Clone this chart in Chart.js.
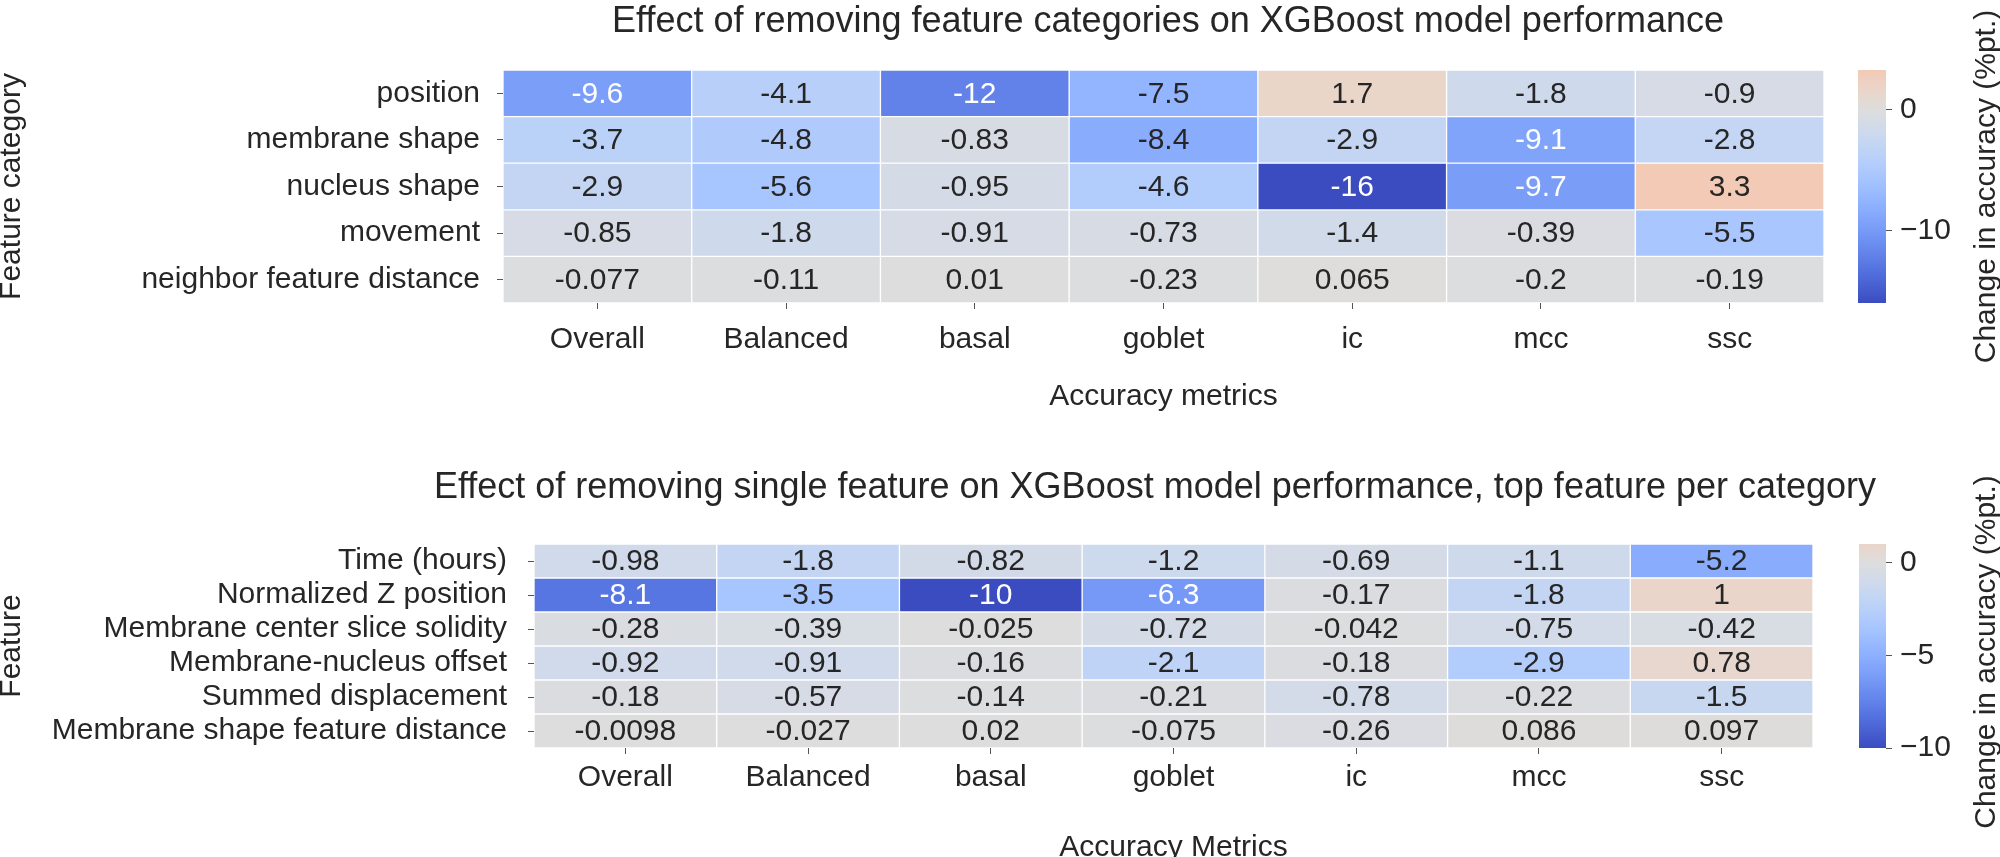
<!DOCTYPE html>
<html>
<head>
<meta charset="utf-8">
<script src="https://cdn.jsdelivr.net/npm/chart.js@4.4.1/dist/chart.umd.min.js"></script>
<style>
  html, body { margin: 0; padding: 0; background: #fff; overflow: hidden; }
  body { width: 2000px; height: 857px; position: relative; }
  .box { position: absolute; }
</style>
</head>
<body>
<div class="box" style="left:0;top:0;width:2000px;height:430px"><canvas id="heat1"></canvas></div>
<div class="box" style="left:0;top:430px;width:2000px;height:450px"><canvas id="heat2"></canvas></div>
<div class="box" style="left:1845px;top:0;width:155px;height:430px"><canvas id="bar1"></canvas></div>
<div class="box" style="left:1845px;top:430px;width:155px;height:450px"><canvas id="bar2"></canvas></div>
<script>
// Columns shared by both heatmaps
const metrics = ["Overall", "Balanced", "basal", "goblet", "ic", "mcc", "ssc"];

// Top heatmap: removing whole feature categories
const categoryRows = ["position", "membrane shape", "nucleus shape", "movement", "neighbor feature distance"];
const categoryValues = [
    [-9.6, -4.1, -12, -7.5, 1.7, -1.8, -0.9],
    [-3.7, -4.8, -0.83, -8.4, -2.9, -9.1, -2.8],
    [-2.9, -5.6, -0.95, -4.6, -16, -9.7, 3.3],
    [-0.85, -1.8, -0.91, -0.73, -1.4, -0.39, -5.5],
    [-0.077, -0.11, 0.01, -0.23, 0.065, -0.2, -0.19]
];
const categoryTicks = [0, -10];

// Bottom heatmap: removing the top single feature per category
const featureRows = ["Time (hours)", "Normalized Z position", "Membrane center slice solidity",
    "Membrane-nucleus offset", "Summed displacement", "Membrane shape feature distance"];
const featureValues = [
    [-0.98, -1.8, -0.82, -1.2, -0.69, -1.1, -5.2],
    [-8.1, -3.5, -10, -6.3, -0.17, -1.8, 1],
    [-0.28, -0.39, -0.025, -0.72, -0.042, -0.75, -0.42],
    [-0.92, -0.91, -0.16, -2.1, -0.18, -2.9, 0.78],
    [-0.18, -0.57, -0.14, -0.21, -0.78, -0.22, -1.5],
    [-0.0098, -0.027, 0.02, -0.075, -0.26, 0.086, 0.097]
];
const featureTicks = [0, -5, -10];

// coolwarm colour map (Moreland), 33 samples
const coolwarm = [
    [59, 76, 192], [68, 90, 204], [77, 104, 215], [87, 117, 225], [98, 130, 234], [108, 142, 241],
    [119, 154, 247], [130, 165, 251], [141, 176, 254], [152, 185, 255], [163, 194, 255], [174, 201, 253],
    [184, 208, 249], [194, 213, 244], [204, 217, 238], [213, 219, 230], [221, 221, 221], [229, 216, 209],
    [236, 211, 198], [241, 204, 185], [245, 196, 173], [247, 187, 160], [247, 177, 148], [247, 166, 135],
    [244, 154, 123], [241, 141, 111], [236, 127, 99], [229, 112, 88], [222, 96, 77], [213, 80, 66],
    [203, 62, 56], [192, 40, 47], [180, 4, 38]
];

const FONT = "'Liberation Sans', Arial, Helvetica, sans-serif";
const TEXT = "#262626";
const tickFont = { family: FONT, size: 30 };
const labelFont = { family: FONT, size: 30, lineHeight: 1 };

function cmapAt(t) {
    t = Math.min(1, Math.max(0, t));
    const pos = t * (coolwarm.length - 1);
    const k = Math.min(coolwarm.length - 2, Math.floor(pos));
    const f = pos - k;
    const a = coolwarm[k], b = coolwarm[k + 1];
    return [0, 1, 2].map(c => a[c] + (b[c] - a[c]) * f);
}

function rgb(c) {
    return "rgb(" + c.map(Math.round).join(",") + ")";
}

// seaborn-style: colours centred on 0, range from the data
function makeNorm(values) {
    const flat = values.flat();
    const vmin = Math.min(...flat);
    const vmax = Math.max(...flat);
    const vrange = Math.max(vmax, -vmin);
    return { vmin, vmax, toT: v => (v + vrange) / (2 * vrange) };
}

function luminance(c) {
    const lin = c.map(v => {
        v = v / 255;
        return v <= 0.03928 ? v / 12.92 : Math.pow((v + 0.055) / 1.055, 2.4);
    });
    return 0.2126 * lin[0] + 0.7152 * lin[1] + 0.0722 * lin[2];
}

function drawHeatmap(id, rows, values, L) {
    const norm = makeNorm(values);

    const datasets = rows.map((r, i) => ({
        label: r,
        data: metrics.map(() => [i, i + 1]),
        backgroundColor: values[i].map(v => rgb(cmapAt(norm.toT(v)))),
        borderColor: "rgba(255,255,255,0.4)",
        borderWidth: 1,
        borderSkipped: false,
        grouped: false,
        barPercentage: 1,
        categoryPercentage: 1
    }));

    // cell numbers + title (title drawn here so it is not squeezed to the plot width)
    const annot = {
        id: "annot",
        afterDatasetsDraw(chart) {
            const { ctx, scales: { x, y } } = chart;
            ctx.save();
            ctx.font = "30px " + FONT;
            ctx.textAlign = "center";
            ctx.textBaseline = "middle";
            values.forEach((row, i) => row.forEach((v, j) => {
                const c = cmapAt(norm.toT(v));
                ctx.fillStyle = luminance(c) > 0.408 ? TEXT : "#ffffff";
                ctx.fillText(String(v), x.getPixelForValue(j), y.getPixelForValue(i + 0.5) + 1);
            }));
            ctx.font = "36px " + FONT;
            ctx.fillStyle = TEXT;
            ctx.textBaseline = "alphabetic";
            ctx.fillText(L.title, L.titleX, L.titleBase);
            ctx.restore();
        }
    };

    return new Chart(document.getElementById(id), {
        type: "bar",
        data: { labels: metrics, datasets: datasets },
        options: {
            responsive: true,
            maintainAspectRatio: false,
            animation: false,
            layout: { padding: { left: 0, right: L.right, top: L.top, bottom: 0 } },
            plugins: {
                legend: { display: false },
                tooltip: { enabled: false },
                title: { display: false }
            },
            scales: {
                x: {
                    type: "category",
                    offset: true,
                    grid: { offset: false, drawOnChartArea: false, tickLength: 6, color: "#555" },
                    border: { display: false },
                    ticks: { font: tickFont, color: TEXT, padding: L.xPad, maxRotation: 0, autoSkip: false },
                    title: { display: true, text: L.xTitle, font: labelFont, color: TEXT, padding: { top: 0, bottom: L.xTitleBottom } },
                    afterFit: a => { a.height = L.xHeight; }
                },
                y: {
                    type: "linear",
                    min: 0,
                    max: rows.length,
                    reverse: true,
                    afterBuildTicks: a => { a.ticks = rows.map((r, i) => ({ value: i + 0.5 })); },
                    ticks: { autoSkip: false, callback: (v, i) => rows[i], font: tickFont, color: TEXT, padding: L.yPad },
                    grid: { drawOnChartArea: false, tickLength: 6, color: "#555" },
                    border: { display: false },
                    title: { display: true, text: L.yTitle, font: labelFont, color: TEXT, padding: { top: -3, bottom: 0 } },
                    afterFit: a => { a.width = L.yWidth; }
                }
            }
        },
        plugins: [annot]
    });
}

function cbGradient(chart, norm) {
    const a = chart.chartArea;
    if (!a) return "#dddddd";
    const g = chart.ctx.createLinearGradient(0, a.bottom, 0, a.top);
    for (let k = 0; k <= 40; k++) {
        const f = k / 40;
        const v = norm.vmin + (norm.vmax - norm.vmin) * f;
        g.addColorStop(f, rgb(cmapAt(norm.toT(v))));
    }
    return g;
}

function drawColorbar(id, values, ticks, L) {
    const norm = makeNorm(values);

    const cbTitle = {
        id: "cbTitle",
        afterDraw(chart) {
            const { ctx, chartArea } = chart;
            ctx.save();
            ctx.translate(L.titleX, (chartArea.top + chartArea.bottom) / 2 + L.titleShift);
            ctx.rotate(-Math.PI / 2);
            ctx.font = "30px " + FONT;
            ctx.fillStyle = TEXT;
            ctx.textAlign = "center";
            ctx.textBaseline = "middle";
            ctx.fillText("Change in accuracy (%pt.)", 0, 0);
            ctx.restore();
        }
    };

    return new Chart(document.getElementById(id), {
        type: "bar",
        data: {
            labels: [""],
            datasets: [{
                data: [[norm.vmin, norm.vmax]],
                backgroundColor: c => cbGradient(c.chart, norm),
                borderWidth: 0,
                barPercentage: 1,
                categoryPercentage: 1
            }]
        },
        options: {
            responsive: true,
            maintainAspectRatio: false,
            animation: false,
            layout: { padding: { left: L.left, right: 0, top: L.top, bottom: L.bottom } },
            plugins: { legend: { display: false }, tooltip: { enabled: false } },
            scales: {
                x: { display: false },
                y: {
                    position: "right",
                    min: norm.vmin,
                    max: norm.vmax,
                    afterBuildTicks: a => { a.ticks = ticks.map(v => ({ value: v })); },
                    ticks: {
                        font: tickFont,
                        color: TEXT,
                        padding: 8,
                        callback: v => v < 0 ? "\u2212" + Math.abs(v) : String(v)
                    },
                    grid: { drawOnChartArea: false, tickLength: 6, color: "#555" },
                    border: { display: false },
                    afterFit: a => { a.width = L.axisWidth; }
                }
            }
        },
        plugins: [cbTitle]
    });
}

drawHeatmap("heat1", categoryRows, categoryValues, {
    title: "Effect of removing feature categories on XGBoost model performance",
    xTitle: "Accuracy metrics",
    yTitle: "Feature category",
    top: 70, right: 176, yWidth: 503, xHeight: 127, xPad: 13, yPad: 17,
    titleX: 1168, titleBase: 32, xTitleBottom: 18
});
drawColorbar("bar1", categoryValues, categoryTicks, {
    left: 13, top: 70, bottom: 127, axisWidth: 114, titleX: 142, titleShift: 0
});

drawHeatmap("heat2", featureRows, featureValues, {
    title: "Effect of removing single feature on XGBoost model performance, top feature per category",
    xTitle: "Accuracy Metrics",
    yTitle: "Feature",
    top: 114, right: 187, yWidth: 534, xHeight: 132, xPad: 6, yPad: 21,
    titleX: 1155, titleBase: 68, xTitleBottom: 17
});
drawColorbar("bar2", featureValues, featureTicks, {
    left: 14, top: 114, bottom: 132, axisWidth: 114, titleX: 142, titleShift: 6
});
</script>
</body>
</html>
